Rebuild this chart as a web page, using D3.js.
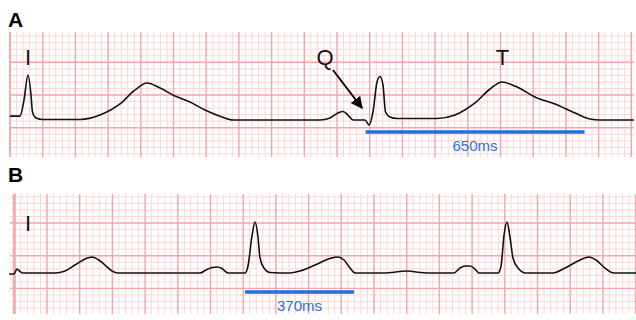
<!DOCTYPE html>
<html>
<head>
<meta charset="utf-8">
<script src="https://cdn.jsdelivr.net/npm/d3@7"></script>
<style>
  body { margin: 0; background: #fff; }
  svg { display: block; font-family: "Liberation Sans", Arial, Helvetica, sans-serif; }
</style>
</head>
<body>
<div id="chart"></div>
<script>
// traces, in small grid boxes: [time, amplitude above baseline]
var traceA = [
  [0, 0.6], [1.53, 0.6], [2.14, 3.06], [2.75, 6.88], [3.21, 3.82], [3.44, 1.22], [3.98, 0.31],
  [5.05, 0.08], [10.7, 0.08], [13.76, 0.76], [16.82, 2.45], [19.11, 4.59], [20.95, 5.66],
  [22.94, 4.89], [25.23, 3.67], [27.52, 2.75], [29.82, 1.53], [32.42, 0.46], [34.1, 0],
  [47.4, 0], [48.93, 0.31], [50.15, 1.07], [50.92, 1.3], [51.68, 0.76], [52.45, 0],
  [54.28, 0], [54.89, -0.76], [55.5, 1.22], [56.12, 5.81], [56.57, 6.65], [57.03, 5.35],
  [57.42, 1.22], [58.1, 0.46], [59.17, 0.23], [65.3, 0.23], [68.04, 0.76], [71.1, 2.6],
  [73.4, 4.74], [75.23, 5.81], [77.2, 5.2], [80.58, 3.36], [83.33, 2.45], [86.39, 1.07],
  [88.69, 0.15], [90.2, 0], [95.4, 0]
];
var traceB = [
  [-0.15, -0.15], [0.61, -0.15], [1.07, 0.61], [1.53, 0.23], [1.99, 0], [6.88, 0],
  [8.41, 0.31], [9.94, 1.22], [11.47, 2.14], [12.54, 2.45], [13.46, 2.06], [14.53, 1.22],
  [15.6, 0.31], [16.51, 0], [29.05, 0], [29.97, 0.46], [30.89, 0.84], [31.65, 0.92],
  [32.42, 0.69], [33.33, 0], [35.93, 0], [36.39, 1.07], [37.0, 5.66], [37.46, 7.8],
  [37.92, 5.5], [38.23, 2.29], [38.84, 0.76], [39.76, 0.08], [42.81, 0], [44.34, 0.31],
  [46.64, 1.22], [48.93, 2.22], [50.15, 2.45], [51.07, 1.99], [51.99, 0.76], [52.75, 0],
  [57.34, 0], [59.63, 0.23], [60.86, 0.31], [62.08, 0.15], [64.22, 0], [67.89, 0],
  [68.81, 0.76], [69.57, 1.07], [70.34, 1.07], [71.1, 0.61], [71.71, 0], [74.62, 0],
  [75.08, 1.07], [75.54, 5.81], [75.99, 7.8], [76.45, 5.5], [76.91, 2.29], [77.68, 0.76],
  [78.9, 0], [83.03, 0], [84.86, 0.76], [86.85, 1.83], [88.53, 2.45], [89.6, 1.99],
  [90.98, 0.76], [92.35, 0], [95.72, 0]
];
// interval bars [start, end] and their labels
var intervalsA = [[54.36, 87.84]];
var intervalsB = [[35.93, 52.6]];
var intervalLabels = ["650ms", "370ms"];
var waveLabelsA = [["I", 2.75], ["Q", 48.17], ["T", 75.3]];
var waveLabelsB = [["I", 2.75]];

var W = 636, H = 320, box = 6.54;
var svg = d3.select("#chart").append("svg").attr("width", W).attr("height", H);

var panels = [
  { name: "A", trace: traceA, top: 32, bottom: 157, left: 10, right: 634, gx: 10, gy: 62.3, base: 120,
    bars: intervalsA, label: intervalLabels[0], waves: waveLabelsA, letterY: 26.7, barY: 132, textY: 151, waveY: 64.5 },
  { name: "B", trace: traceB, top: 194, bottom: 314, left: 10, right: 636, gx: 14.3, gy: 223, base: 273,
    bars: intervalsB, label: intervalLabels[1], waves: waveLabelsB, letterY: 181.7, barY: 292, textY: 311, waveY: 231 }
];

panels.forEach(function (p) {
  var x = d3.scaleLinear().domain([0, 1]).range([10, 10 + box]);
  var y = d3.scaleLinear().domain([0, 1]).range([p.base, p.base - box]);
  var g = svg.append("g");

  // grid paper
  var kx0 = Math.ceil((p.left - p.gx) / box), kx1 = Math.floor((p.right - p.gx) / box);
  var ky0 = Math.ceil((p.top - p.gy) / box), ky1 = Math.floor((p.bottom - p.gy) / box);
  var vlines = d3.range(kx0, kx1 + 1), hlines = d3.range(ky0, ky1 + 1);
  [false, true].forEach(function (major) {
    g.selectAll(null).data(vlines.filter(function (k) { return (k % 5 === 0) === major; }))
      .enter().append("line")
      .attr("x1", function (k) { return p.gx + k * box; }).attr("x2", function (k) { return p.gx + k * box; })
      .attr("y1", p.top).attr("y2", p.bottom)
      .attr("stroke", major ? "#f7a3a8" : "#fcd6d9").attr("stroke-width", major ? 1.4 : 1);
    g.selectAll(null).data(hlines.filter(function (k) { return (k % 5 === 0) === major; }))
      .enter().append("line")
      .attr("y1", function (k) { return p.gy + k * box; }).attr("y2", function (k) { return p.gy + k * box; })
      .attr("x1", p.left).attr("x2", p.right)
      .attr("stroke", major ? "#f7a3a8" : "#fcd6d9").attr("stroke-width", major ? 1.4 : 1);
  });
  g.append("line").attr("x1", p.gx).attr("x2", p.gx).attr("y1", p.top).attr("y2", p.bottom)
    .attr("stroke", "#f8a8ad").attr("stroke-width", p.name === "B" ? 3 : 1.6);

  // trace
  var line = d3.line().x(function (d) { return x(d[0]); }).y(function (d) { return y(d[1]); })
    .curve(d3.curveMonotoneX);
  g.append("path").datum(p.trace).attr("d", line)
    .attr("fill", "none").attr("stroke", "#111").attr("stroke-width", 1.6);

  // interval bar
  p.bars.forEach(function (b) {
    g.append("line").attr("x1", x(b[0])).attr("x2", x(b[1])).attr("y1", p.barY).attr("y2", p.barY)
      .attr("stroke", "#1f6fe0").attr("stroke-width", 3.5);
    g.append("text").attr("x", (x(b[0]) + x(b[1])) / 2).attr("y", p.textY)
      .attr("text-anchor", "middle").attr("font-size", 15).attr("fill", "#2a72e0").text(p.label);
  });

  // wave labels
  g.selectAll(null).data(p.waves).enter().append("text")
    .attr("x", function (d) { return x(d[1]); })
    .attr("y", p.waveY)
    .attr("text-anchor", "middle").attr("font-size", 22)
    .attr("fill", "#111").text(function (d) { return d[0]; });

  svg.append("text").attr("x", 8).attr("y", p.letterY).attr("font-size", 21).attr("font-weight", "bold")
    .attr("fill", "#000").text(p.name);
});

// arrow to the Q wave
var defs = svg.append("defs");
defs.append("marker").attr("id", "head").attr("viewBox", "0 0 10 10").attr("refX", 9).attr("refY", 5)
  .attr("markerWidth", 6).attr("markerHeight", 6).attr("orient", "auto")
  .append("path").attr("d", "M0,0L10,5L0,10z").attr("fill", "#000");
svg.append("line").attr("x1", 333).attr("y1", 70).attr("x2", 362).attr("y2", 108)
  .attr("stroke", "#000").attr("stroke-width", 2).attr("marker-end", "url(#head)");
</script>
</body>
</html>
